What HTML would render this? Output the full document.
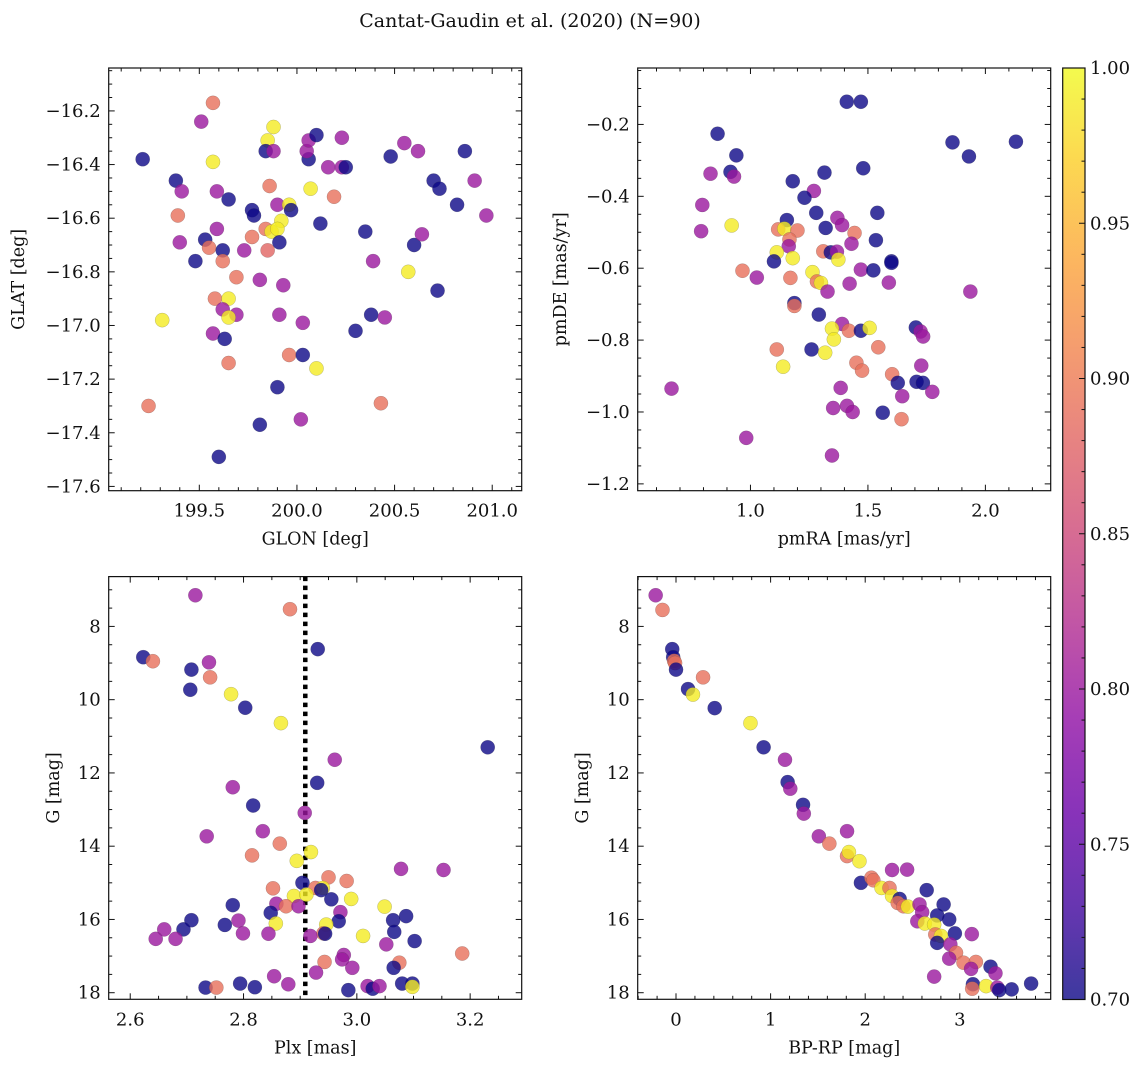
<!DOCTYPE html>
<html><head><meta charset="utf-8">
<style>
html,body{margin:0;padding:0;background:#fff;}
svg text{font-family:"DejaVu Serif","Liberation Serif",serif;fill:#111;}
</style></head>
<body>
<svg id="fig" width="1148" height="1067" viewBox="0 0 1148 1067" xmlns="http://www.w3.org/2000/svg">
<rect x="0" y="0" width="1148" height="1067" fill="#fff"/>
<text x="530" y="27" text-anchor="middle" font-size="19" font-family="DejaVu Serif, Liberation Serif, serif">Cantat-Gaudin et al. (2020) (N=90)</text>
</svg>
<script>
// ---- Panel 1: sky positions ----
const glon = [199.21,199.57,199.51,199.88,199.85,199.84,199.88,199.57,199.38,199.41,199.59,199.65,199.39,199.59,199.53,199.40,199.55,199.62,199.48,199.62,199.73,199.77,199.77,199.78,199.86,199.90,199.96,199.97,199.92,199.84,199.87,199.90,199.91,199.85,199.81,199.93,199.69,199.58,199.65,199.62,199.69,199.65,199.31,199.57,199.63,199.65,199.91,200.03,199.96,200.03,200.10,199.90,199.24,199.81,200.02,199.60,200.07,200.06,200.05,200.06,200.10,200.16,200.23,200.23,200.25,200.19,200.12,200.35,200.39,200.38,200.45,200.30,200.43,200.48,200.55,200.62,200.57,200.60,200.64,200.70,200.73,200.72,200.82,200.86,200.91,200.97];
const glat = [-16.38,-16.17,-16.24,-16.26,-16.31,-16.35,-16.35,-16.39,-16.46,-16.50,-16.50,-16.53,-16.59,-16.64,-16.68,-16.69,-16.71,-16.72,-16.76,-16.76,-16.72,-16.67,-16.57,-16.59,-16.48,-16.55,-16.55,-16.57,-16.61,-16.64,-16.65,-16.64,-16.69,-16.72,-16.83,-16.85,-16.82,-16.90,-16.90,-16.94,-16.96,-16.97,-16.98,-17.03,-17.05,-17.14,-16.96,-16.99,-17.11,-17.11,-17.16,-17.23,-17.30,-17.37,-17.35,-17.49,-16.49,-16.38,-16.35,-16.31,-16.29,-16.41,-16.30,-16.41,-16.41,-16.52,-16.62,-16.65,-16.76,-16.96,-16.97,-17.02,-17.29,-16.37,-16.32,-16.35,-16.80,-16.70,-16.66,-16.46,-16.49,-16.87,-16.55,-16.35,-16.46,-16.59];
const prob1 = [0.70,0.89,0.80,0.99,0.99,0.70,0.80,0.99,0.70,0.80,0.80,0.70,0.89,0.80,0.70,0.80,0.89,0.70,0.70,0.89,0.80,0.89,0.70,0.70,0.89,0.80,0.99,0.70,0.99,0.89,0.99,0.99,0.70,0.88,0.80,0.80,0.89,0.89,0.99,0.80,0.80,0.99,0.99,0.80,0.70,0.89,0.80,0.80,0.89,0.70,0.99,0.70,0.89,0.70,0.80,0.70,0.99,0.70,0.80,0.80,0.70,0.80,0.80,0.80,0.70,0.89,0.70,0.70,0.80,0.70,0.80,0.70,0.89,0.70,0.80,0.80,0.99,0.70,0.80,0.70,0.70,0.70,0.70,0.70,0.80,0.80];
const p1XTicks = [199.5,200.0,200.5,201.0];
const p1YTicks = [-16.2,-16.4,-16.6,-16.8,-17.0,-17.2,-17.4,-17.6];

// ---- Panel 2: proper motions ----
const pmra = [1.41,1.47,0.86,0.94,0.915,0.83,0.93,1.18,1.315,1.48,1.86,1.93,2.13,1.27,1.23,0.795,0.79,0.92,1.28,1.155,1.32,1.37,1.39,1.54,1.443,1.118,1.144,1.20,1.166,1.163,1.112,1.10,1.18,1.534,1.43,1.31,1.342,1.368,1.374,1.47,1.523,1.60,1.60,1.589,0.966,1.027,1.17,1.264,1.283,1.30,1.328,1.422,1.936,1.187,1.187,1.291,1.39,1.347,1.419,1.47,1.507,1.355,1.704,1.724,1.735,1.112,1.26,1.318,1.544,1.139,1.451,1.475,1.727,1.603,1.627,1.707,1.734,1.774,1.646,1.384,0.664,1.352,1.411,1.435,1.563,1.643,0.982,1.347];
const pmde = [-0.137,-0.137,-0.226,-0.286,-0.332,-0.337,-0.345,-0.358,-0.334,-0.322,-0.250,-0.289,-0.248,-0.385,-0.404,-0.424,-0.497,-0.481,-0.446,-0.466,-0.488,-0.46,-0.48,-0.446,-0.502,-0.492,-0.49,-0.495,-0.52,-0.539,-0.556,-0.581,-0.572,-0.522,-0.532,-0.553,-0.556,-0.554,-0.576,-0.604,-0.606,-0.581,-0.585,-0.64,-0.607,-0.626,-0.627,-0.611,-0.637,-0.641,-0.665,-0.643,-0.665,-0.697,-0.705,-0.729,-0.755,-0.768,-0.774,-0.774,-0.766,-0.798,-0.765,-0.776,-0.79,-0.826,-0.826,-0.835,-0.82,-0.874,-0.863,-0.885,-0.871,-0.895,-0.919,-0.916,-0.919,-0.944,-0.956,-0.933,-0.935,-0.989,-0.983,-1.0,-1.002,-1.02,-1.072,-1.121];
const prob2 = [0.70,0.70,0.70,0.70,0.70,0.80,0.80,0.70,0.70,0.70,0.70,0.70,0.70,0.80,0.70,0.80,0.80,0.99,0.70,0.70,0.70,0.80,0.80,0.70,0.89,0.89,0.99,0.89,0.89,0.80,0.99,0.70,0.99,0.70,0.80,0.89,0.70,0.80,0.99,0.80,0.70,0.70,0.70,0.80,0.89,0.80,0.89,0.99,0.89,0.99,0.80,0.80,0.80,0.70,0.89,0.70,0.80,0.99,0.89,0.70,0.99,0.99,0.70,0.80,0.80,0.89,0.70,0.99,0.89,0.99,0.89,0.89,0.80,0.89,0.70,0.70,0.70,0.80,0.80,0.80,0.80,0.80,0.80,0.80,0.70,0.89,0.80,0.80];
const p2XTicks = [1.0,1.5,2.0];
const p2YTicks = [-0.2,-0.4,-0.6,-0.8,-1.0,-1.2];

// ---- Panel 3: parallax vs G ----
const plx = [2.715,2.882,2.931,2.623,2.640,2.739,2.708,2.741,2.706,2.778,2.803,2.866,3.231,2.961,2.930,2.781,2.817,2.908,2.834,2.735,2.864,2.815,2.919,2.894,3.078,3.153,2.950,2.982,2.904,2.852,2.927,2.940,2.937,2.889,2.911,2.955,2.990,2.781,2.858,2.875,2.897,3.049,2.848,2.971,3.087,2.708,2.791,2.968,3.064,2.857,2.767,2.946,2.660,2.694,3.066,2.799,2.844,2.941,2.944,2.918,3.011,2.645,2.680,3.102,3.052,3.186,2.977,2.974,2.943,3.075,3.065,2.992,2.928,2.854,2.879,2.733,2.752,2.794,2.820,2.985,3.019,3.028,3.040,3.080,3.098,3.098];
const gmag3 = [7.15,7.53,8.62,8.84,8.95,8.98,9.18,9.39,9.73,9.85,10.22,10.64,11.30,11.64,12.27,12.39,12.89,13.09,13.59,13.73,13.93,14.25,14.16,14.40,14.62,14.65,14.85,14.95,15.00,15.15,15.14,15.14,15.20,15.36,15.32,15.45,15.44,15.61,15.57,15.64,15.64,15.65,15.82,15.80,15.91,16.02,16.03,16.05,16.02,16.11,16.15,16.14,16.27,16.27,16.34,16.38,16.39,16.38,16.39,16.45,16.45,16.53,16.53,16.59,16.68,16.93,16.97,17.09,17.16,17.18,17.32,17.32,17.45,17.55,17.77,17.86,17.86,17.75,17.85,17.93,17.82,17.89,17.82,17.75,17.75,17.84];
const prob3 = [0.80,0.89,0.70,0.70,0.89,0.80,0.70,0.89,0.70,0.99,0.70,0.99,0.70,0.80,0.70,0.80,0.70,0.80,0.80,0.80,0.89,0.89,0.99,0.99,0.80,0.80,0.89,0.89,0.70,0.89,0.89,0.99,0.70,0.99,0.99,0.70,0.99,0.70,0.80,0.89,0.80,0.99,0.70,0.80,0.70,0.70,0.80,0.70,0.70,0.99,0.70,0.99,0.80,0.70,0.70,0.80,0.80,0.89,0.70,0.80,0.99,0.80,0.80,0.70,0.80,0.89,0.80,0.80,0.89,0.89,0.70,0.80,0.80,0.80,0.80,0.70,0.89,0.70,0.70,0.70,0.80,0.70,0.80,0.70,0.70,0.99];
const meanPlx = [2.909];
const p3XTicks = [2.6,2.8,3.0,3.2];
const gTicks = [8,10,12,14,16,18];

// ---- Panel 4: CMD ----
const bprp = [-0.215,-0.143,-0.04,-0.03,-0.02,-0.01,0.0,0.127,0.286,0.179,0.409,0.787,0.926,1.152,1.18,1.208,1.343,1.351,1.510,1.808,1.621,1.808,1.828,1.939,2.284,2.443,1.955,2.066,2.086,2.173,2.257,2.284,2.364,2.344,2.404,2.451,2.65,2.829,2.574,2.602,2.761,2.888,2.551,2.63,2.729,2.948,3.127,2.741,2.801,2.761,2.90,2.96,2.888,3.039,3.17,3.325,3.119,3.377,2.729,3.139,3.131,3.278,3.397,3.417,3.548,3.754];
const gmag4 = [7.15,7.55,8.62,8.84,8.94,9.0,9.18,9.71,9.39,9.86,10.23,10.64,11.30,11.64,12.25,12.43,12.87,13.11,13.73,13.59,13.93,14.27,14.16,14.41,14.65,14.64,15.0,14.86,14.93,15.14,15.14,15.36,15.44,15.55,15.64,15.65,15.2,15.59,15.59,15.80,15.89,16.0,16.05,16.11,16.14,16.38,16.40,16.41,16.45,16.64,16.68,16.91,17.07,17.18,17.16,17.29,17.35,17.47,17.56,17.77,17.89,17.82,17.86,17.93,17.91,17.75];
const prob4 = [0.80,0.89,0.70,0.70,0.89,0.89,0.70,0.70,0.89,0.99,0.70,0.99,0.70,0.80,0.70,0.80,0.70,0.80,0.80,0.80,0.89,0.89,0.99,0.99,0.80,0.80,0.70,0.89,0.89,0.99,0.89,0.99,0.70,0.89,0.89,0.99,0.70,0.70,0.80,0.80,0.70,0.70,0.80,0.99,0.99,0.70,0.80,0.89,0.99,0.70,0.80,0.89,0.80,0.89,0.89,0.70,0.80,0.80,0.80,0.70,0.89,0.99,0.80,0.70,0.70,0.70];
const p4XTicks = [0,1,2,3];

// ---- Colorbar ----
const cbTicks = [0.70,0.75,0.80,0.85,0.90,0.95,1.00];
const cbRange = [0.70,1.00];

const NS = "http://www.w3.org/2000/svg";
const FONT = "DejaVu Serif, Liberation Serif, serif";
const svg = document.getElementById('fig');
function mk(tag, attrs, parent){
  const e = document.createElementNS(NS, tag);
  for (const k in attrs) e.setAttribute(k, attrs[k]);
  if (tag === 'text') e.setAttribute('font-family', FONT);
  (parent||svg).appendChild(e);
  return e;
}
const plasma = [[13,8,135],[65,4,157],[106,0,168],[143,13,164],[177,42,144],[204,71,120],[225,100,98],[242,132,75],[252,166,54],[252,206,37],[240,249,33]];
function cmap(v){
  let t = (v - cbRange[0])/(cbRange[1]-cbRange[0]);
  t = Math.max(0, Math.min(1, t));
  const f = t*10, i = Math.min(9, Math.floor(f)), r = f - i;
  const a = plasma[i], b = plasma[i+1];
  return 'rgb(' + [0,1,2].map(k => Math.round(a[k] + (b[k]-a[k])*r)).join(',') + ')';
}
function fmt(v, d){ const s = v.toFixed(d); return s.replace('-', '\u2212'); }

function panel(cfg){
  const g = mk('g', {});
  
  
  const X = v => cfg.x0 + (v - cfg.xlim[0])/(cfg.xlim[1]-cfg.xlim[0])*(cfg.x1-cfg.x0);
  const Y = v => cfg.y1 - (v - cfg.ylim[0])/(cfg.ylim[1]-cfg.ylim[0])*(cfg.y1-cfg.y0);
  const clip = mk('clipPath', {id: cfg.name + '-clip'}, g);
  mk('rect', {x: cfg.x0, y: cfg.y0, width: cfg.x1-cfg.x0, height: cfg.y1-cfg.y0}, clip);
  const pts = mk('g', {'clip-path': 'url(#' + cfg.name + '-clip)'}, g);
  
  
  if (cfg.vline){
    const l = mk('line', {x1: X(cfg.vline), x2: X(cfg.vline), y1: cfg.y0, y2: cfg.y1, stroke: '#000', 'stroke-width': 4.5, 'stroke-dasharray': '4.5,4.5'}, pts);
    
    
  }
  for (let i = 0; i < cfg.xs.length; i++){
    const c = mk('circle', {cx: X(cfg.xs[i]), cy: Y(cfg.ys[i]), r: 7.1, fill: cmap(cfg.ps[i]), 'fill-opacity': 0.8, stroke: '#444', 'stroke-opacity': 0.35, 'stroke-width': 0.5}, pts);
    
    
  }
  mk('rect', {x: cfg.x0, y: cfg.y0, width: cfg.x1-cfg.x0, height: cfg.y1-cfg.y0, fill: 'none', stroke: '#111', 'stroke-width': 1.2}, g);
  const tg = mk('g', {stroke: '#111', 'stroke-width': 1}, g);
  const eps = 1e-9;
  const startX = Math.ceil(cfg.xlim[0]/cfg.xminor - eps)*cfg.xminor;
  for (let v = startX; v <= cfg.xlim[1] + eps; v += cfg.xminor){
    const isMaj = Math.abs(v/cfg.xmajor - Math.round(v/cfg.xmajor)) < 1e-6;
    const L = isMaj ? 6 : 3.5, x = X(v);
    mk('line', {x1: x, x2: x, y1: cfg.y1, y2: cfg.y1 - L}, tg);
    mk('line', {x1: x, x2: x, y1: cfg.y0, y2: cfg.y0 + L}, tg);
  }
  const startY = Math.ceil(cfg.ylim[0]/cfg.yminor - eps)*cfg.yminor;
  for (let v = startY; v <= cfg.ylim[1] + eps; v += cfg.yminor){
    const isMaj = Math.abs(v/cfg.ymajor - Math.round(v/cfg.ymajor)) < 1e-6;
    const L = isMaj ? 6 : 3.5, y = Y(v);
    mk('line', {x1: cfg.x0, x2: cfg.x0 + L, y1: y, y2: y}, tg);
    mk('line', {x1: cfg.x1, x2: cfg.x1 - L, y1: y, y2: y}, tg);
  }
  cfg.xticks.forEach(v => {
    const t = mk('text', {x: X(v), y: cfg.y1 + 26, 'text-anchor': 'middle', 'font-size': 18}, g);
    t.textContent = fmt(v, cfg.xdec);
    
    
  });
  cfg.yticks.forEach(v => {
    const t = mk('text', {x: cfg.x0 - 8, y: Y(v) + 6, 'text-anchor': 'end', 'font-size': 18}, g);
    t.textContent = cfg.negLabels ? fmt(-v, cfg.ydec) : fmt(v, cfg.ydec);
    
    
  });
  const xl = mk('text', {x: (cfg.x0+cfg.x1)/2, y: cfg.y1 + 54, 'text-anchor': 'middle', 'font-size': 17.5}, g);
  xl.textContent = cfg.xlabel;
  
  
  const yl = mk('text', {x: 0, y: 0, 'text-anchor': 'middle', 'font-size': 17.5, transform: 'translate(' + cfg.ylx + ',' + ((cfg.y0+cfg.y1)/2) + ') rotate(-90)'}, g);
  yl.textContent = cfg.ylabel;
  
  
}

panel({name:'glon-glat-panel', x0:108.7, x1:521.7, y0:68, y1:490.7, xlim:[199.036,201.151], ylim:[-17.616,-16.04],
  xs:glon, ys:glat, ps:prob1, xticks:p1XTicks, yticks:p1YTicks, xdec:1, ydec:1, xmajor:0.5, xminor:0.1, ymajor:0.2, yminor:0.05,
  xlabel:'GLON [deg]', ylabel:'GLAT [deg]', ylx:24});
panel({name:'proper-motion-panel', x0:637.7, x1:1050.7, y0:68, y1:490.7, xlim:[0.52,2.278], ylim:[-1.219,-0.043],
  xs:pmra, ys:pmde, ps:prob2, xticks:p2XTicks, yticks:p2YTicks, xdec:1, ydec:1, xmajor:0.5, xminor:0.1, ymajor:0.2, yminor:0.05,
  xlabel:'pmRA [mas/yr]', ylabel:'pmDE [mas/yr]', ylx:566});
panel({name:'parallax-panel', x0:108.7, x1:521.7, y0:576.6, y1:999.3, xlim:[2.562,3.291], ylim:[-18.18,-6.64],
  xs:plx, ys:gmag3.map(v=>-v), ps:prob3, xticks:p3XTicks, yticks:gTicks.map(v=>-v), negLabels:true, xdec:1, ydec:0, xmajor:0.2, xminor:0.05, ymajor:2, yminor:0.5,
  xlabel:'Plx [mas]', ylabel:'G [mag]', ylx:59, vline:meanPlx[0]});
panel({name:'cmd-panel', x0:637.7, x1:1050.7, y0:576.6, y1:999.3, xlim:[-0.405,3.961], ylim:[-18.18,-6.64],
  xs:bprp, ys:gmag4.map(v=>-v), ps:prob4, xticks:p4XTicks, yticks:gTicks.map(v=>-v), negLabels:true, xdec:0, ydec:0, xmajor:1, xminor:0.2, ymajor:2, yminor:0.5,
  xlabel:'BP-RP [mag]', ylabel:'G [mag]', ylx:588});

(function(){
  const cx0 = 1062.7, cx1 = 1085, cy0 = 68, cy1 = 999.5;
  const g = mk('g', {});
  
  
  const defs = mk('defs', {}, g);
  const grad = mk('linearGradient', {id: 'cbgrad', x1: 0, y1: 1, x2: 0, y2: 0}, defs);
  for (let i = 0; i <= 20; i++){
    const v = cbRange[0] + (cbRange[1]-cbRange[0])*i/20;
    mk('stop', {offset: (i/20).toFixed(3), 'stop-color': cmap(v), 'stop-opacity': 0.8}, grad);
  }
  mk('rect', {x: cx0, y: cy0, width: cx1-cx0, height: cy1-cy0, fill: 'url(#cbgrad)', stroke: '#111', 'stroke-width': 1.2}, g);
  const Y = v => cy1 - (v - cbRange[0])/(cbRange[1]-cbRange[0])*(cy1-cy0);
  for (let k = 0; k <= 30; k++){
    const v = cbRange[0] + k*0.01, isMaj = k % 5 === 0, L = isMaj ? 6 : 3.5, y = Y(v);
    mk('line', {x1: cx1, x2: cx1 - L, y1: y, y2: y, stroke: '#111', 'stroke-width': 1}, g);
  }
  cbTicks.forEach(v => {
    const t = mk('text', {x: cx1 + 5, y: Y(v) + 6, 'font-size': 18}, g);
    t.textContent = v.toFixed(2);
    
    
  });
})();
</script>
</body></html>
